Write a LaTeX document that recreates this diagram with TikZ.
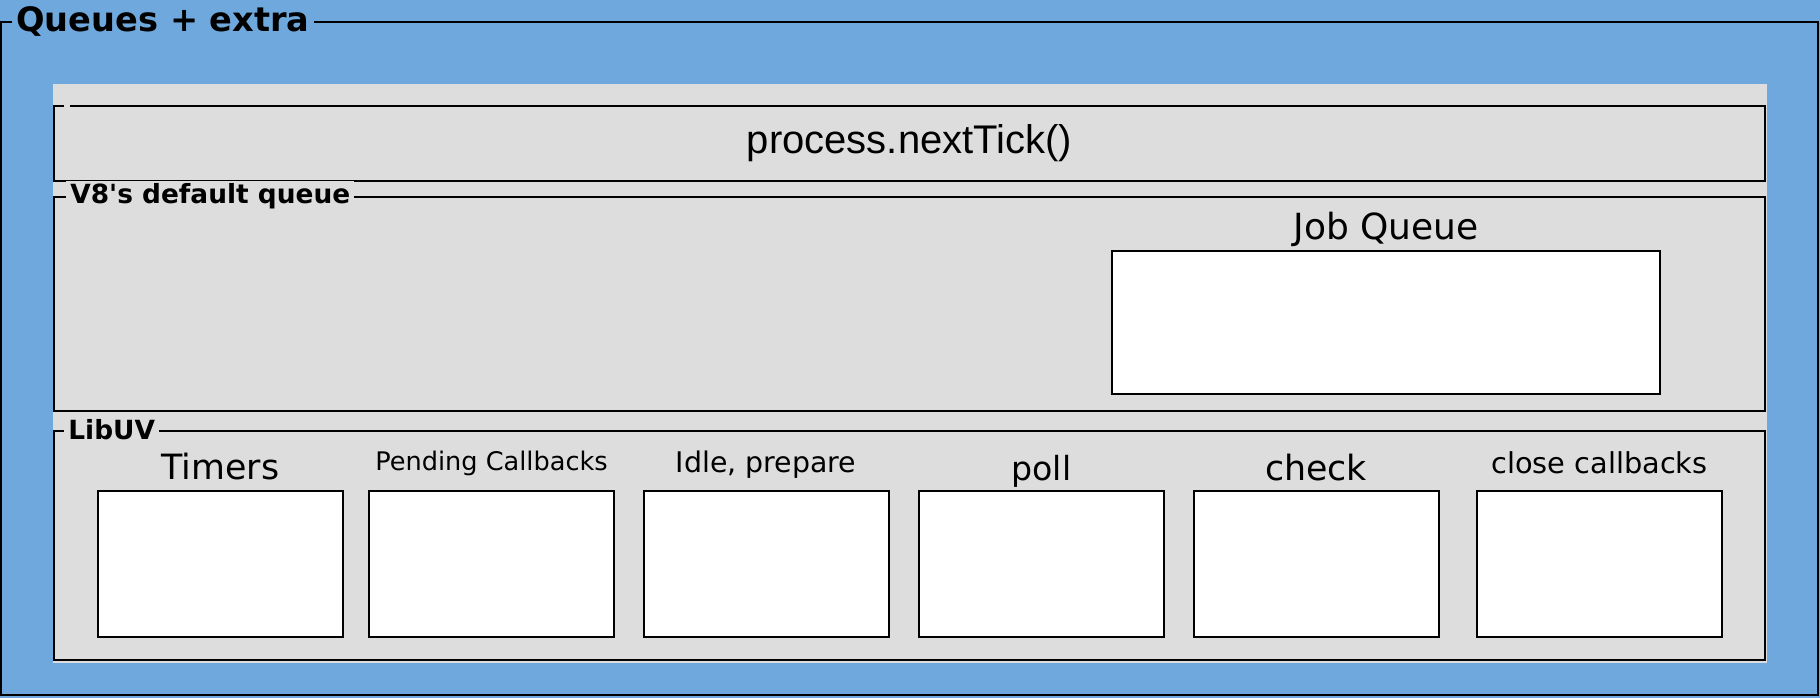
\documentclass[tikz,border=0pt]{standalone}
\usepackage{fontspec}
\setmainfont{DejaVu Sans}
\newfontfamily\sketchfont{DejaVu Sans}
\newfontfamily\codefont{Liberation Sans}
\usepackage{tikz}
\usetikzlibrary{calc,positioning}
\definecolor{canvasblue}{HTML}{6FA8DC}
\definecolor{panelgray}{HTML}{DDDDDD}
\tikzset{
    frame/.style={rectangle, draw=black, line width=1pt, inner sep=0pt},
    group/.style={frame, minimum width=855.5pt},
    slot/.style={rectangle, draw=black, fill=white, line width=1pt, minimum width=122.5pt, minimum height=73pt},
    grouptitle/.style={fill=panelgray, inner xsep=2pt, inner ysep=1pt, anchor=west, font=\sketchfont\bfseries\fontsize{13.2}{15}\selectfont},
    slotlabel/.style={anchor=base, inner sep=0pt},
}

\begin{document}
\begin{tikzpicture}
        [x=0.5pt, y=-0.5pt, font=\sketchfont]

        % Canvas
        \useasboundingbox (0,0) rectangle (1820,698);
        \fill[canvasblue] (0,0) rectangle (1820,698);

        % Outer frame and its title
        \node[frame, minimum width=908.5pt, minimum height=336.5pt] (queues) at (909.5,358.5) {};
        \node[grouptitle, fill=canvasblue, font=\sketchfont\bfseries\fontsize{16.8}{20}\selectfont]
            (queuestitle) at ([xshift=6pt]queues.north west) {Queues + extra};

        % Gray panel
        \node[rectangle, fill=panelgray, minimum width=857pt, minimum height=289.5pt] (panel) at (910,373.5) {};

        % process.nextTick()
        \node[group, minimum height=37.5pt, font=\codefont\fontsize{20}{24}\selectfont]
            (nexttick) at (909.5,143.5) {process.nextTick()};
        \fill[panelgray] ([xshift=5.5pt,yshift=-2pt]nexttick.north west) rectangle ([xshift=8.5pt,yshift=2pt]nexttick.north west);

        % V8's default queue
        \node[group, minimum height=107pt] (v8) at (909.5,304) {};
        \node[grouptitle] (v8title) at ([xshift=6.5pt]v8.north west) {V8's default queue};
        \node[slot, minimum width=274pt, minimum height=71.5pt] (jobqueue) at (1386,322.5) {};
        \node[slotlabel, font=\sketchfont\fontsize{18}{21}\selectfont] at ([yshift=5.5pt]jobqueue.north) {Job Queue};

        % LibUV
        \node[group, minimum height=114.5pt] (libuv) at (909.5,545.5) {};
        \node[grouptitle] (libuvtitle) at ([xshift=5.5pt]libuv.north west) {LibUV};

        \node[slot] (timers) at (220.5,564) {};
        \node[slot] (pending) at (491.5,564) {};
        \node[slot] (idle) at (766,564) {};
        \node[slot] (poll) at (1041.5,564) {};
        \node[slot] (check) at (1316,564) {};
        \node[slot] (close) at (1599.5,564) {};

        % Phase labels
        \node[slotlabel, font=\sketchfont\fontsize{17.4}{20}\selectfont] at ([yshift=5.5pt]timers.north) {Timers};
        \node[slotlabel, font=\sketchfont\fontsize{12.8}{15}\selectfont] at ([yshift=10pt]pending.north) {Pending Callbacks};
        \node[slotlabel, font=\sketchfont\fontsize{14.2}{17}\selectfont] at ([yshift=9pt]idle.north) {Idle, prepare};
        \node[slotlabel, font=\sketchfont\fontsize{16.6}{19}\selectfont] at ([yshift=5pt]poll.north) {poll};
        \node[slotlabel, font=\sketchfont\fontsize{17.4}{20}\selectfont] at ([yshift=5pt]check.north) {check};
        \node[slotlabel, font=\sketchfont\fontsize{14.4}{17}\selectfont] at ([yshift=8.5pt]close.north) {close callbacks};

    \end{tikzpicture}
\end{document}
